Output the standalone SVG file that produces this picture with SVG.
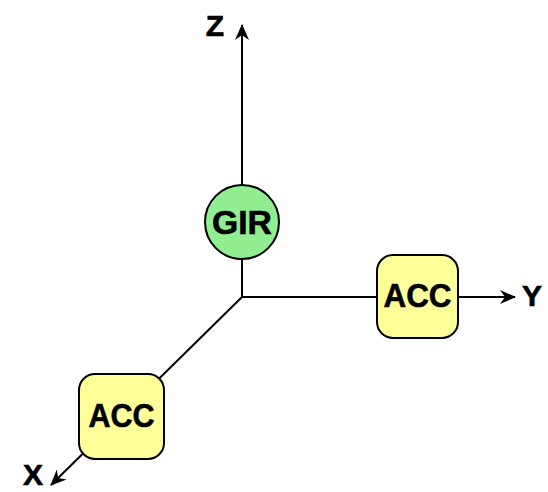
<svg xmlns="http://www.w3.org/2000/svg" width="548" height="492" viewBox="0 0 548 492">
  <defs>
    <marker id="arrow" viewBox="0 0 16 14" refX="15" refY="7" markerWidth="16" markerHeight="14" markerUnits="userSpaceOnUse" orient="auto">
      <path d="M0,0 L16,7 L0,14 L5,7 Z" fill="#000"/>
    </marker>
    <style>
      .axis { stroke: #000; stroke-width: 2; fill: none; marker-end: url(#arrow); }
      .lbl { font-family: "Liberation Sans", Arial, sans-serif; font-weight: bold; fill: #000; stroke: #000; stroke-width: 0.6; text-anchor: middle; }
      .axis-lbl { font-size: 30px; }
      .node-lbl { font-size: 34px; }
      .acc { fill: #ffff99; stroke: #000; stroke-width: 2; }
      .gir { fill: #90ee90; stroke: #000; stroke-width: 2; }
    </style>
  </defs>

  <!-- coordinate axes -->
  <g id="connectors">
    <line class="axis" x1="242" y1="297" x2="242" y2="25"/>
    <line class="axis" x1="242" y1="297" x2="515" y2="297"/>
    <line class="axis" x1="242" y1="297" x2="51" y2="485"/>
  </g>

  <!-- axis labels -->
  <g id="axis-labels">
    <text class="lbl axis-lbl" x="215" y="36">Z</text>
    <text class="lbl axis-lbl" x="532" y="306">Y</text>
    <text class="lbl axis-lbl" x="33" y="485">X</text>
  </g>

  <!-- gyroscope on the Z axis -->
  <g id="gir">
    <circle class="gir" cx="242" cy="222" r="37"/>
    <text class="lbl node-lbl" x="242" y="234" textLength="60" lengthAdjust="spacingAndGlyphs">GIR</text>
  </g>

  <!-- accelerometer on the Y axis -->
  <g id="acc-y">
    <rect class="acc" x="377" y="255" width="81" height="83" rx="16"/>
    <text class="lbl node-lbl" x="417.5" y="307" textLength="68" lengthAdjust="spacingAndGlyphs">ACC</text>
  </g>

  <!-- accelerometer on the X axis -->
  <g id="acc-x">
    <rect class="acc" x="79" y="374" width="85" height="85" rx="16"/>
    <text class="lbl node-lbl" x="121.5" y="427" textLength="66" lengthAdjust="spacingAndGlyphs">ACC</text>
  </g>
</svg>
